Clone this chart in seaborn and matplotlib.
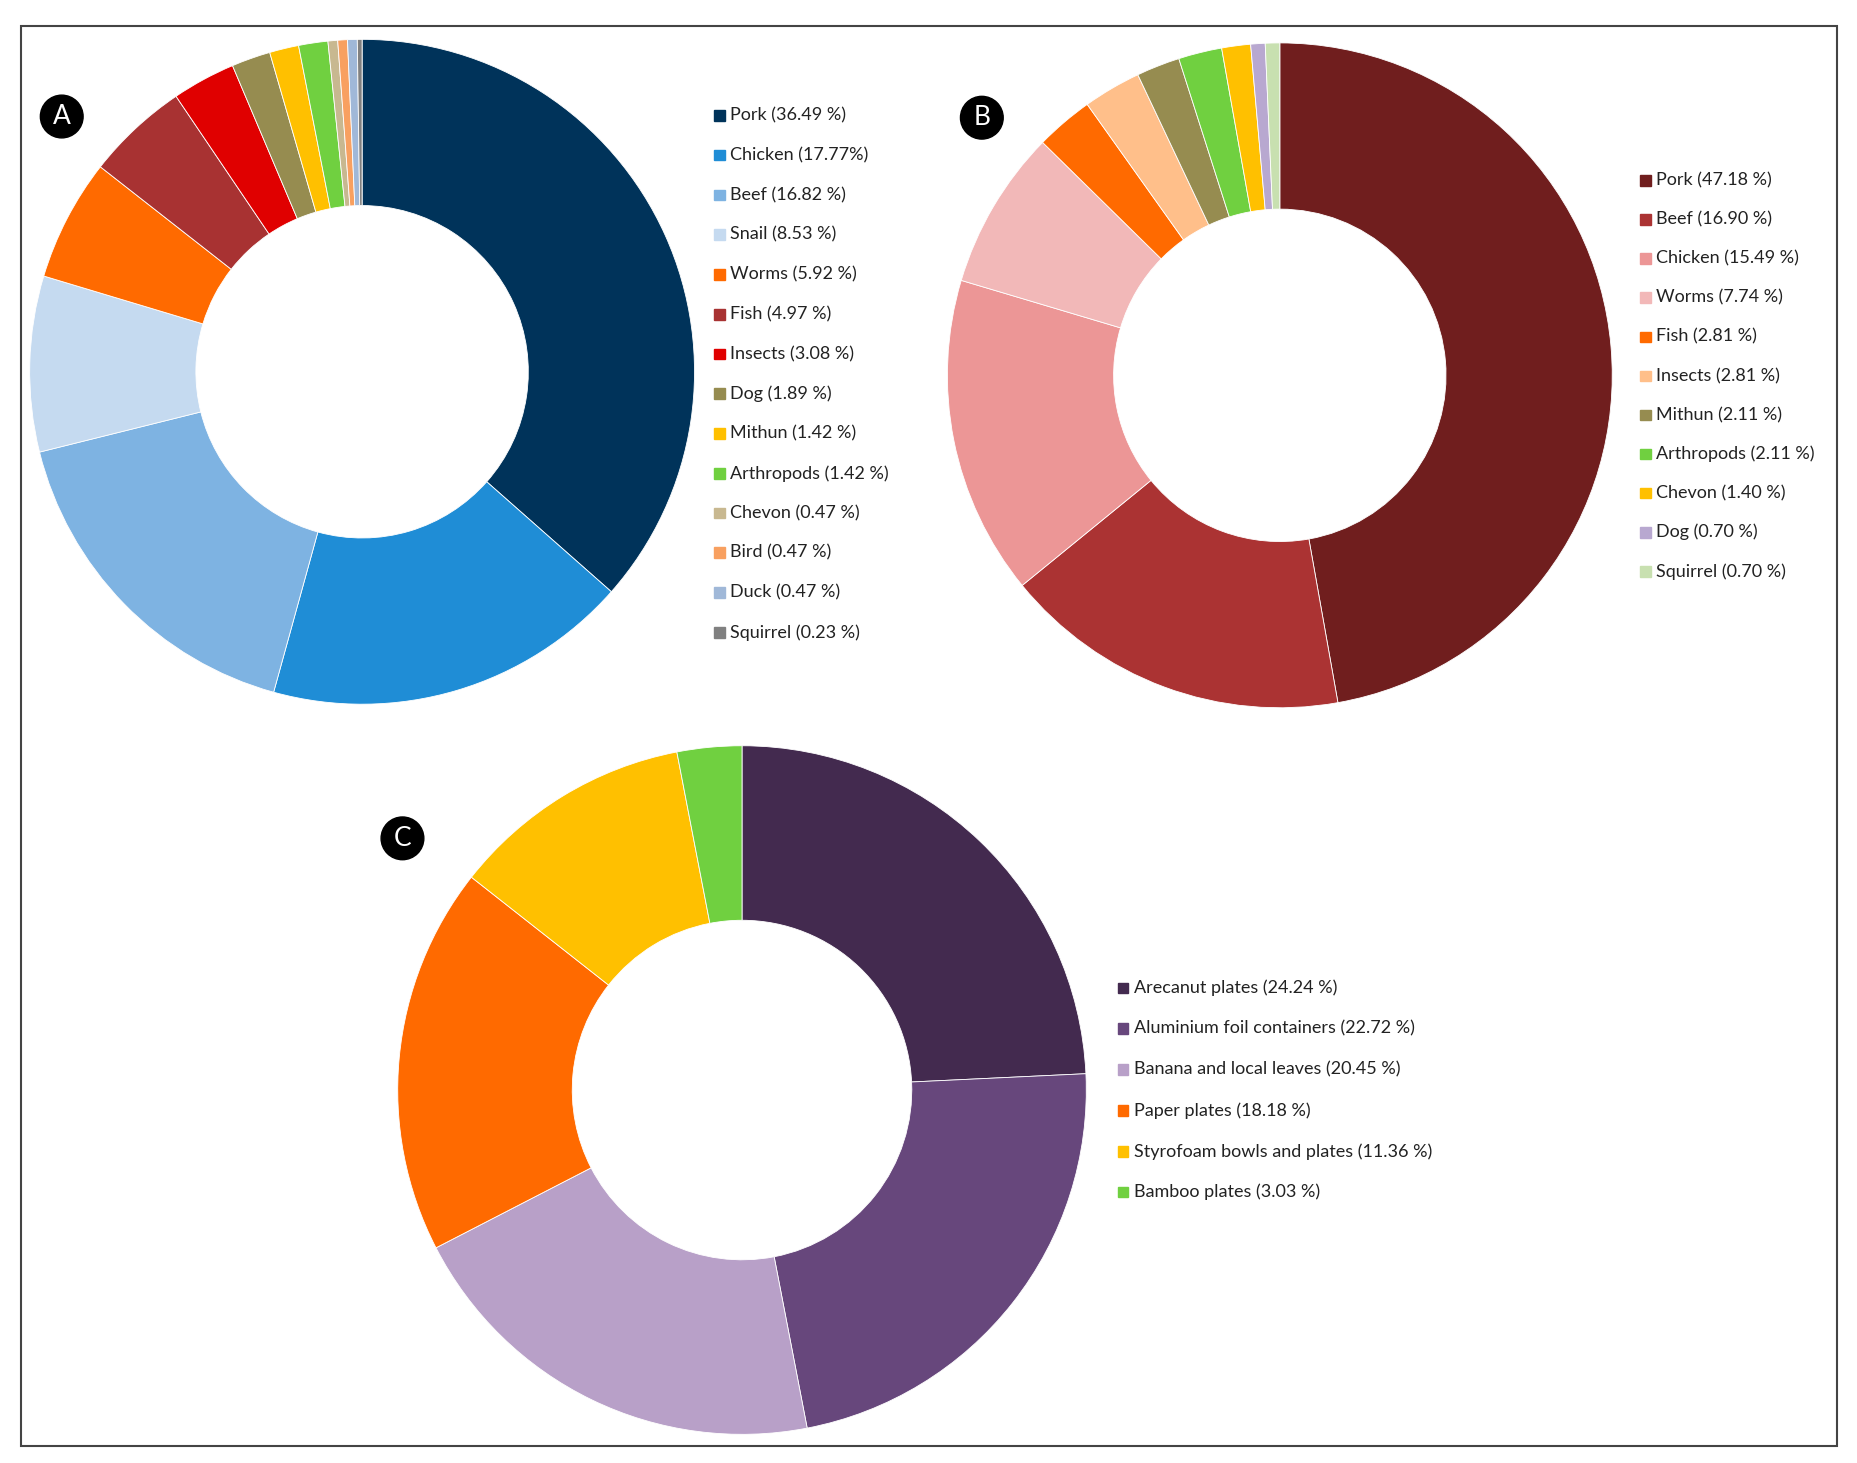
import matplotlib
matplotlib.use("Agg")
import matplotlib.pyplot as plt
import seaborn as sns
from matplotlib.patches import Rectangle, Circle

sns.set_theme(style="white")
plt.rcParams['font.family'] = ['Lato', 'DejaVu Sans']

# panel A: meat types
a_labels = ["Pork (36.49 %)", "Chicken (17.77%)", "Beef (16.82 %)", "Snail (8.53 %)",
            "Worms (5.92 %)", "Fish (4.97 %)", "Insects (3.08 %)", "Dog (1.89 %)",
            "Mithun (1.42 %)", "Arthropods (1.42 %)", "Chevon (0.47 %)", "Bird (0.47 %)",
            "Duck (0.47 %)", "Squirrel (0.23 %)"]
a_values = [36.49, 17.77, 16.82, 8.53, 5.92, 4.97, 3.08, 1.89, 1.42, 1.42, 0.47, 0.47, 0.47, 0.23]
a_colors = ["#00335a", "#1f8dd6", "#7eb3e2", "#c5daf0", "#ff6a00", "#a83232", "#e00000",
            "#968c50", "#ffc000", "#70d040", "#c8b890", "#f8a060", "#a0b8d8", "#808080"]

# panel B
b_labels = ["Pork (47.18 %)", "Beef (16.90 %)", "Chicken (15.49 %)", "Worms (7.74 %)",
            "Fish (2.81 %)", "Insects (2.81 %)", "Mithun (2.11 %)", "Arthropods (2.11 %)",
            "Chevon (1.40 %)", "Dog (0.70 %)", "Squirrel (0.70 %)"]
b_values = [47.18, 16.90, 15.49, 7.74, 2.81, 2.81, 2.11, 2.11, 1.40, 0.70, 0.70]
b_colors = ["#701e1e", "#ab3333", "#ec9696", "#f2b8b8", "#ff6a00", "#ffbf8a",
            "#968c50", "#70d040", "#ffc000", "#b8a8d0", "#c8e0b0"]

# panel C: serving materials
c_labels = ["Arecanut plates (24.24 %)", "Aluminium foil containers (22.72 %)",
            "Banana and local leaves (20.45 %)", "Paper plates (18.18 %)",
            "Styrofoam bowls and plates (11.36 %)", "Bamboo plates (3.03 %)"]
c_values = [24.24, 22.72, 20.45, 18.18, 11.36, 3.03]
c_colors = ["#432a4f", "#67477c", "#b8a0c8", "#ff6a00", "#ffc000", "#70d040"]

W, H = 1565, 1232
fig = plt.figure(figsize=(18.58, 14.63), dpi=100)
ax = fig.add_axes([0, 0, 1, 1])
ax.set_xlim(0, W)
ax.set_ylim(0, H)
ax.set_aspect('equal')
ax.axis('off')

ax.add_patch(Rectangle((18, H - 1218), 1529, 1196, fill=False, edgecolor="#444444", lw=1.5))


def donut(values, colors, cx, cy, r, hole):
    ax.pie(values, colors=colors, center=(cx, H - cy), radius=r, startangle=90,
           counterclock=False, normalize=True,
           wedgeprops=dict(width=r - hole, edgecolor="white", linewidth=0.6), frame=True)


def legend(labels, colors, x, y0, step):
    for i, (lab, col) in enumerate(zip(labels, colors)):
        y = H - (y0 + i * step)
        ax.add_patch(Rectangle((x - 4.5, y - 4.5), 9, 9, color=col))
        ax.text(x + 9, y, lab, fontsize=13, va='center', ha='left', color="#222222")


def badge(letter, x, y):
    ax.add_patch(Circle((x, H - y), 18, color="black", zorder=5))
    ax.text(x, H - y, letter, color="white", fontsize=19, ha='center', va='center', zorder=6)


donut(a_values, a_colors, 305, 313, 280, 140)
donut(b_values, b_colors, 1078, 316, 280, 140)
donut(c_values, c_colors, 625, 918, 290, 143)
ax.set_xlim(0, W)
ax.set_ylim(0, H)
ax.axis('off')

legend(a_labels, a_colors, 606, 97, 33.5)
legend(b_labels, b_colors, 1386, 152, 32.9)
legend(c_labels, c_colors, 946, 832, 34.4)

badge("A", 52, 98)
badge("B", 827, 99)
badge("C", 339, 706)

fig.savefig("out.png", dpi=100)
